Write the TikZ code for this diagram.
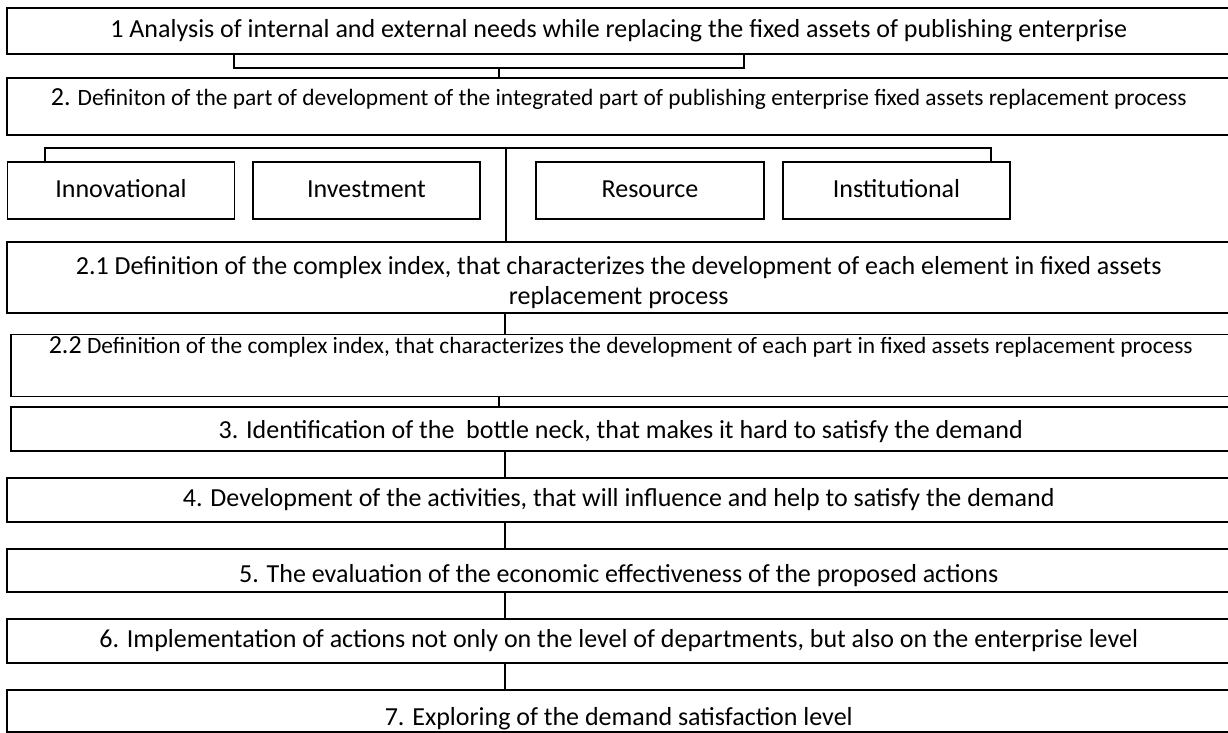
\documentclass[tikz,border=0pt]{standalone}
\usepackage{fontspec}
\setmainfont{Carlito}
\usetikzlibrary{positioning,calc}

\tikzset{
  stage/.style={draw, line width=1.5pt, inner sep=0pt, minimum width=1224pt, anchor=west,
    text height=19pt, text depth=6pt, font=\fontsize{26}{30}\selectfont},
  part/.style={draw, line width=1.5pt, inner sep=0pt, minimum width=227pt, minimum height=57pt,
    text height=19pt, text depth=6pt, font=\fontsize{26}{30}\selectfont},
  small/.style={font=\fontsize{23.4}{28}\selectfont},
  link/.style={line width=1.1pt},
  txtup/.style={text depth=#1},
  txtdown/.style={text height=#1}
}

\begin{document}
\begin{tikzpicture}[x=1pt, y=-1pt]
		% Page frame, same size as the reference
		\useasboundingbox (0,0) rectangle (1228,733);

		% --- Main stages ---
		\node[stage, minimum height=46pt] (s1) at (6,31)
			{1 Analysis of internal and external needs while replacing the fixed assets of publishing enterprise};
		\node[stage, small, minimum height=57pt, txtup=21pt] (s2) at (6,106.5)
			{{\fontsize{26}{28}\selectfont 2.} Definiton of the part of development of the integrated part of publishing enterprise fixed assets replacement process};

		% --- Parts of the process ---
		\node[part] (innov) at (121,190.5) {Innovational};
		\node[part] (invest) at (366.5,190.5) {Investment};
		\node[part, minimum width=228pt] (res) at (650,190.5) {Resource};
		\node[part] (inst) at (896.5,190.5) {Institutional};

		\node[stage, minimum height=71pt, align=center, text height=59pt, text depth=] (s21) at (6,277.5)
			{2.1 Definition of the complex index, that characterizes the development of each element in fixed assets\\replacement process};
		\node[stage, small, minimum height=57pt, minimum width=1220pt, txtup=43pt] (s22) at (10,365.5)
			{{\fontsize{26}{28}\selectfont 2.2} Definition of the complex index, that characterizes the development of each part in fixed assets replacement process};
		\node[stage, minimum height=44pt, minimum width=1220pt, txtdown=25pt] (s3) at (10,429)
			{3. Identification of the~ bottle neck, that makes it hard to satisfy the demand};
		\node[stage, minimum height=44pt] (s4) at (6,500)
			{4. Development of the activities, that will influence and help to satisfy the demand};
		\node[stage, minimum height=43pt, txtdown=30pt] (s5) at (6,570.5)
			{5. The evaluation of the economic effectiveness of the proposed actions};
		\node[stage, minimum height=44pt] (s6) at (6,641)
			{6. Implementation of actions not only on the level of departments, but also on the enterprise level};
		\node[stage, minimum height=42pt, txtdown=35pt] (s7) at (6,711)
			{7. Exploring of the demand satisfaction level};

		% --- Connectors ---
		% bracket under stage 1
		\coordinate (brL) at (234,68);
		\coordinate (brR) at (744,68);
		\coordinate (brM) at (499,68);
		\draw[link] (s1.south -| brL) -- (brL) -- (brR) -- (s1.south -| brR);
		\draw[link] (brM) -- (brM |- s2.north);

		% fork over the four parts
		\coordinate (forkL) at (45,148);
		\coordinate (forkR) at (991,148);
		\coordinate (fork) at (506,148);
		\draw[link] (forkL |- innov.north) -- (forkL) -- (forkR) -- (forkR |- inst.north);
		\draw[link] (fork) -- (fork |- s21.north);

		% spine between the stages
		\coordinate (spine) at (505,0);
		\draw[link] (s21.south -| spine) -- (s22.north -| spine);
		\draw[link] (s22.south -| brM) -- (s3.north -| brM);
		\draw[link] (s3.south -| spine) -- (s4.north -| spine);
		\draw[link] (s4.south -| spine) -- (s5.north -| spine);
		\draw[link] (s5.south -| spine) -- (s6.north -| spine);
		\draw[link] (s6.south -| spine) -- (s7.north -| spine);

	\end{tikzpicture}
\end{document}
